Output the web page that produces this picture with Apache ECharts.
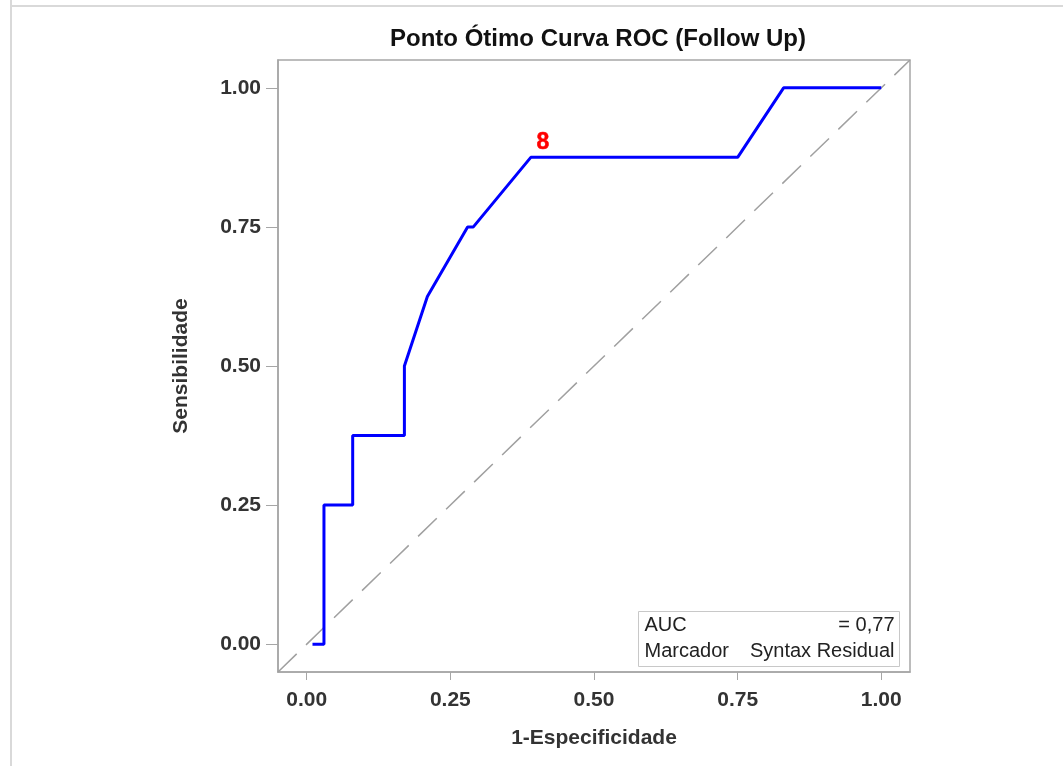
<!DOCTYPE html>
<html>
<head>
<meta charset="utf-8">
<script src="https://cdn.jsdelivr.net/npm/echarts@6/dist/echarts.min.js"></script>
<style>
  html, body { margin: 0; padding: 0; background: #fff; }
  #chart { width: 1063px; height: 766px; }
</style>
</head>
<body>
<div id="chart"></div>
<script>
// ROC curve points (1-specificity, sensitivity)
const fpr = [0.01, 0.03, 0.03, 0.08, 0.08, 0.17, 0.17, 0.21, 0.28, 0.29, 0.39, 0.75, 0.83, 1.0];
const tpr = [0.0, 0.0, 0.25, 0.25, 0.375, 0.375, 0.5, 0.625, 0.75, 0.75, 0.875, 0.875, 1.0, 1.0];
const optimalIndex = 10;
const optimalLabel = '8';
const refLine = [-0.05, 1.05];
const ticks = [0, 0.25, 0.5, 0.75, 1];
const aucText = '= 0,77';
const markerText = 'Syntax Residual';

const chartInit = () => {
  const $chartEl = document.getElementById('chart');
  const chart = echarts.init($chartEl);
  const gray = '#a6a6a6';
  const font = '"Liberation Sans", Arial, sans-serif';
  const tickFont = { fontFamily: font, fontWeight: 'bold', fontSize: 21, color: '#333' };

  const axisCommon = {
    type: 'value',
    min: refLine[0],
    max: refLine[1],
    splitLine: { show: false },
    axisLine: { show: true, onZero: false, lineStyle: { color: gray, width: 1.5 } },
    axisTick: { show: true, inside: false, customValues: ticks, lineStyle: { color: gray, width: 1 } },
    axisLabel: Object.assign({ customValues: ticks, formatter: v => v.toFixed(2) }, tickFont),
    nameLocation: 'middle',
    nameTextStyle: { fontFamily: font, fontWeight: 'bold', fontSize: 21, color: '#333' }
  };

  chart.setOption({
    animation: false,
    title: {
      text: 'Ponto Ótimo Curva ROC (Follow Up)',
      left: 593,
      textAlign: 'center',
      top: 22,
      textStyle: { fontFamily: font, fontWeight: 'bold', fontSize: 24, color: '#111' }
    },
    grid: {
      left: 278,
      right: 153,
      top: 60,
      bottom: 94,
      show: true,
      borderColor: gray,
      borderWidth: 1.5,
      backgroundColor: '#fff'
    },
    xAxis: Object.assign({}, axisCommon, {
      name: '1-Especificidade',
      nameGap: 56,
      axisTick: Object.assign({}, axisCommon.axisTick, { length: 8 }),
      axisLabel: Object.assign({}, axisCommon.axisLabel, { margin: 18 })
    }),
    yAxis: Object.assign({}, axisCommon, {
      name: 'Sensibilidade',
      nameGap: 86,
      axisTick: Object.assign({}, axisCommon.axisTick, { length: 12 }),
      axisLabel: Object.assign({}, axisCommon.axisLabel, { margin: 17 })
    }),
    series: [
      {
        type: 'line',
        data: [[refLine[0], refLine[0]], [refLine[1], refLine[1]]],
        symbol: 'none',
        silent: true,
        lineStyle: { color: '#a0a0a0', width: 1.5, type: [26, 13] },
        z: 1
      },
      {
        type: 'line',
        data: fpr.map((x, i) => [x, tpr[i]]),
        symbol: 'none',
        lineStyle: { color: '#0000ff', width: 3 },
        z: 2
      },
      {
        type: 'scatter',
        data: [[fpr[optimalIndex], tpr[optimalIndex]]],
        symbolSize: 2,
        itemStyle: { color: 'rgba(0,0,0,0)' },
        silent: true,
        label: {
          show: true,
          formatter: optimalLabel,
          position: 'top',
          distance: 2,
          offset: [12, 0],
          color: '#ff0000',
          opacity: 1,
          fontWeight: 'bold',
          fontSize: 23,
          fontFamily: font,
          textBorderColor: '#ff0000',
          textBorderWidth: 0.5
        },
        z: 3
      }
    ],
    graphic: [
      { type: 'line', shape: { x1: 11, y1: 0, x2: 11, y2: 766 }, style: { stroke: '#d9d9d9', lineWidth: 2 } },
      { type: 'line', shape: { x1: 10, y1: 6, x2: 1063, y2: 6 }, style: { stroke: '#d9d9d9', lineWidth: 2 } },
      {
        type: 'group',
        left: 638,
        top: 611,
        children: [
          { type: 'rect', shape: { x: 0, y: 0, width: 261, height: 55 }, style: { fill: '#fff', stroke: '#c8c8c8', lineWidth: 1 } },
          { type: 'text', x: 6, y: 14, style: { text: 'AUC', font: '20px "Liberation Sans", Arial', fill: '#222', textVerticalAlign: 'middle' } },
          { type: 'text', x: 256, y: 14, style: { text: aucText, font: '20px "Liberation Sans", Arial', fill: '#222', textAlign: 'right', textVerticalAlign: 'middle' } },
          { type: 'text', x: 6, y: 40, style: { text: 'Marcador', font: '20px "Liberation Sans", Arial', fill: '#222', textVerticalAlign: 'middle' } },
          { type: 'text', x: 256, y: 40, style: { text: markerText, font: '20px "Liberation Sans", Arial', fill: '#222', textAlign: 'right', textVerticalAlign: 'middle' } }
        ]
      }
    ]
  });
};

chartInit();
</script>
</body>
</html>
